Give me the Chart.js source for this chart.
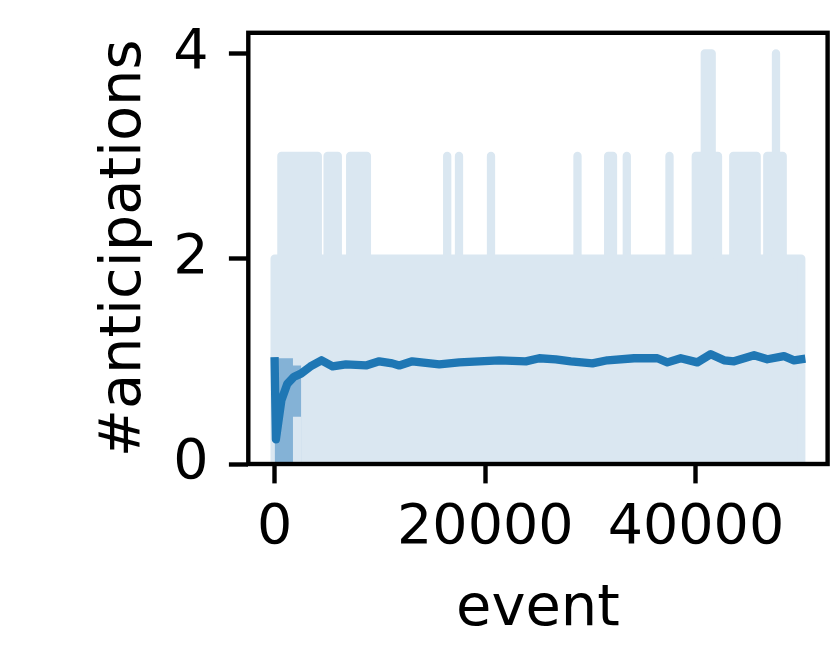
<!DOCTYPE html>
<html>
<head>
<meta charset="utf-8">
<script src="https://cdn.jsdelivr.net/npm/chart.js@4.4.1/dist/chart.umd.min.js"></script>
<style>
  html, body { margin: 0; padding: 0; background: #ffffff; }
  canvas { display: block; }
</style>
</head>
<body>
<canvas id="c" width="830" height="664"></canvas>
<script>
// ---- data ----
const xTicks = [0, 20000, 40000];
const yTicks = [0, 2, 4];

// raw #anticipations: dense 0..2 band over all events, with occasional peaks
const rawStart = 0;
const rawEnd = 50000;
const rawBaseLevel = 2;
const spikeStart = [643, 5029, 7174, 16384, 17504, 20542, 28754, 31669, 33435, 37489, 39986, 43546, 46774, 40840, 47600];
const spikeEnd   = [4098, 5997, 8760, 16384, 17504, 20542, 28754, 32125, 33435, 37489, 42093, 45768, 48236, 41495, 47600];
const spikeLevel = [3, 3, 3, 3, 3, 3, 3, 3, 3, 3, 3, 3, 3, 4, 4];

// running mean
const meanX = [0, 120, 640, 1200, 1850, 2500, 3400, 4450, 5500, 6770, 8670, 9930, 11170, 11830, 13070, 15630, 17530, 19430, 21330, 23850, 25120, 26700, 28120, 30170, 31600, 34130, 36340, 37290, 38560, 40130, 41410, 42670, 43620, 45520, 46780, 48360, 49310, 50000];
const meanY = [1.0, 0.24, 0.62, 0.78, 0.85, 0.88, 0.95, 1.01, 0.95, 0.97, 0.96, 1.00, 0.98, 0.96, 1.00, 0.97, 0.99, 1.00, 1.01, 1.00, 1.03, 1.02, 1.00, 0.98, 1.01, 1.03, 1.03, 0.99, 1.03, 0.99, 1.07, 1.01, 1.00, 1.06, 1.02, 1.05, 1.01, 1.02];

// early band around the running mean
const bandX = [0, 1740, 2530];
const bandUpper = [1.03, 0.96, 0.96];
const bandLower = [0, 0.46, 0.46];

// ---- build envelope points of the raw series from the arrays ----
function levelLeft(x) {
  let v = (x > rawStart && x <= rawEnd) ? rawBaseLevel : 0;
  for (let i = 0; i < spikeStart.length; i++) if (spikeStart[i] < x && spikeEnd[i] >= x) v = Math.max(v, spikeLevel[i]);
  return v;
}
function levelAt(x) {
  let v = (x >= rawStart && x <= rawEnd) ? rawBaseLevel : 0;
  for (let i = 0; i < spikeStart.length; i++) if (spikeStart[i] <= x && spikeEnd[i] >= x) v = Math.max(v, spikeLevel[i]);
  return v;
}
function levelRight(x) {
  let v = (x >= rawStart && x < rawEnd) ? rawBaseLevel : 0;
  for (let i = 0; i < spikeStart.length; i++) if (spikeStart[i] <= x && spikeEnd[i] > x) v = Math.max(v, spikeLevel[i]);
  return v;
}
const bounds = Array.from(new Set([rawStart, rawEnd, ...spikeStart, ...spikeEnd])).sort((a, b) => a - b);
const rawPts = [];
for (const b of bounds) {
  for (const v of [levelLeft(b), levelAt(b), levelRight(b)]) {
    const last = rawPts[rawPts.length - 1];
    if (!last || last.x !== b || last.y !== v) rawPts.push({ x: b, y: v });
  }
}

const meanPts = meanX.map((x, i) => ({ x, y: meanY[i] }));
// band drawn as upper area (mid blue) with lower area repainted in the raw colour
function stepPts(xs, ys) {
  const pts = [{ x: xs[0], y: 0 }];
  for (let i = 0; i < xs.length - 1; i++) {
    pts.push({ x: xs[i], y: ys[i] });
    pts.push({ x: xs[i + 1], y: ys[i] });
  }
  pts.push({ x: xs[xs.length - 1], y: 0 });
  return pts;
}
const upPts = stepPts(bandX, bandUpper);
const loPts = stepPts(bandX, bandLower);

const FONT = 'DejaVu Sans';
const FS = 55.5;
const FT = 57.5;
const LIGHT = 'rgb(218,231,241)';
const MID = 'rgb(132,178,214)';
const DARK = '#1f77b4';

const spines = {
  id: 'spines',
  afterDatasetsDraw(chart) {
    const { ctx, chartArea: a } = chart;
    ctx.save();
    ctx.strokeStyle = '#000';
    ctx.lineWidth = 4.4;
    ctx.lineJoin = 'miter';
    ctx.strokeRect(a.left, a.top, a.right - a.left, a.bottom - a.top);
    ctx.restore();
  }
};

new Chart(document.getElementById('c'), {
  type: 'line',
  data: {
    datasets: [
      {
        data: rawPts, order: 4,
        borderColor: LIGHT, backgroundColor: LIGHT, borderWidth: 8.3,
        borderJoinStyle: 'round', borderCapStyle: 'square',
        fill: 'origin', pointRadius: 0, tension: 0, clip: 0
      },
      {
        data: upPts, order: 3,
        borderWidth: 0, borderColor: MID, backgroundColor: MID,
        fill: 'origin', pointRadius: 0, tension: 0, clip: 0
      },
      {
        data: loPts, order: 2,
        borderWidth: 0, borderColor: LIGHT, backgroundColor: LIGHT,
        fill: 'origin', pointRadius: 0, tension: 0, clip: 0
      },
      {
        data: meanPts, order: 1,
        borderColor: DARK, borderWidth: 8.3,
        borderJoinStyle: 'round', borderCapStyle: 'square',
        fill: false, pointRadius: 0, tension: 0, clip: 0
      }
    ]
  },
  options: {
    responsive: false,
    animation: false,
    events: [],
    layout: { padding: { top: 32.8, right: 2.4, bottom: 0, left: 0 } },
    plugins: { legend: { display: false }, tooltip: { enabled: false } },
    scales: {
      x: {
        type: 'linear', min: -2500, max: 52500,
        afterBuildTicks: s => { s.ticks = xTicks.map(v => ({ value: v })); },
        afterFit: s => { s.height = 200; s.paddingLeft = 0; s.paddingRight = 0; },
        grid: { display: true, drawOnChartArea: false, drawTicks: true, tickLength: 19.4, tickWidth: 4.4, tickColor: '#000' },
        border: { display: false },
        ticks: { color: '#000', font: { family: FONT, size: FS }, padding: 11.6, maxRotation: 0, autoSkip: false, callback: v => String(v) },
        title: { display: true, text: 'event', color: '#000', font: { family: FONT, size: FT }, padding: { top: 0, bottom: 19 } }
      },
      y: {
        type: 'linear', min: 0, max: 4.2,
        afterBuildTicks: s => { s.ticks = yTicks.map(v => ({ value: v })); },
        afterFit: s => { s.width = 248.3; s.paddingTop = 0; s.paddingBottom = 0; },
        grid: { display: true, drawOnChartArea: false, drawTicks: true, tickLength: 19.4, tickWidth: 4.4, tickColor: '#000' },
        border: { display: false },
        ticks: { color: '#000', font: { family: FONT, size: FS }, padding: 20.4, autoSkip: false, callback: v => String(v) },
        title: { display: true, text: '#anticipations', color: '#000', font: { family: FONT, size: FT }, padding: { top: 91, bottom: 0 } }
      }
    }
  },
  plugins: [spines]
});
</script>
</body>
</html>
